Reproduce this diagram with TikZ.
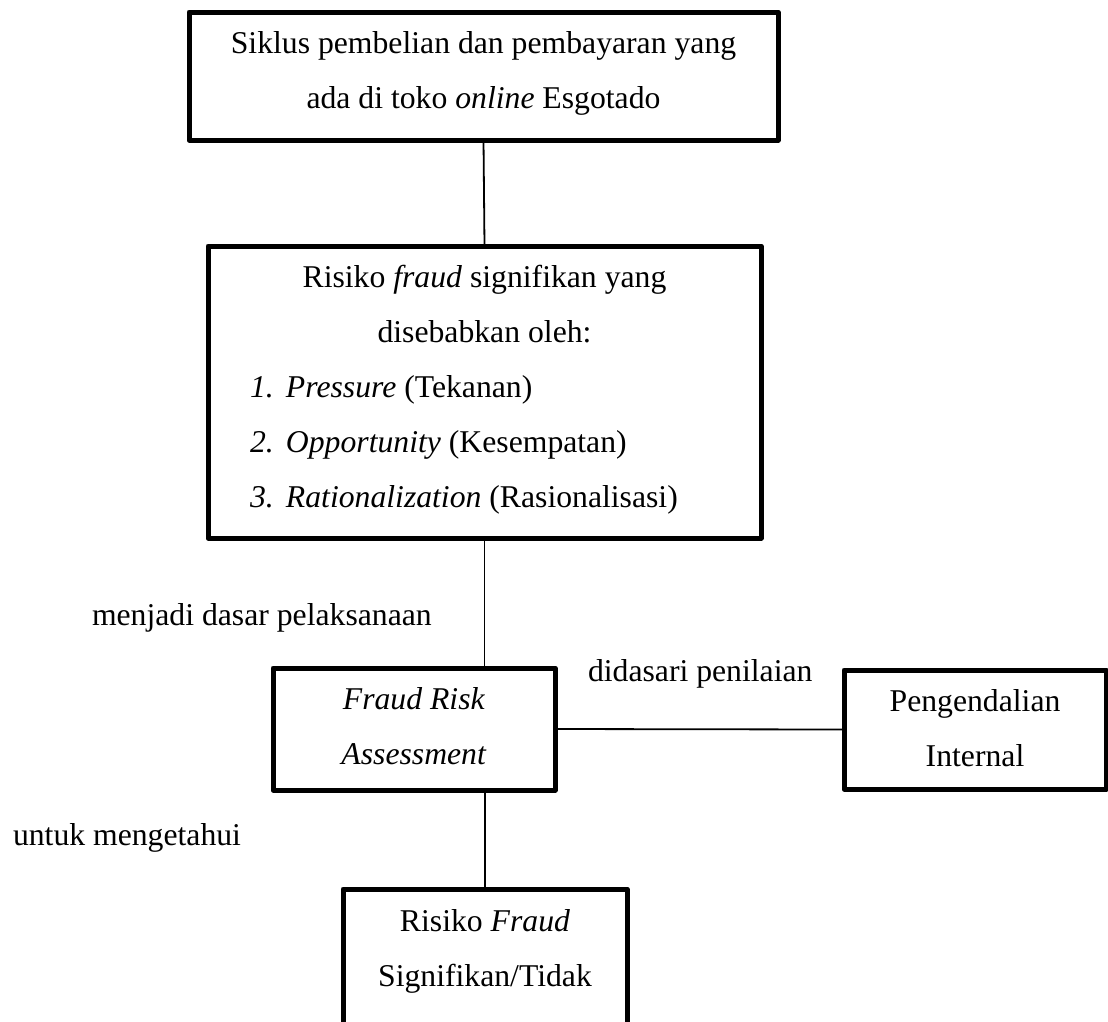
\documentclass[tikz,border=0pt]{standalone}
\usepackage{fontspec}
\setmainfont{Liberation Serif}
\begin{document}
\begin{tikzpicture}[x=1pt,y=-1pt,
  box/.style={draw=black,line width=5pt,line join=round,rectangle,inner sep=0pt,outer sep=0pt},
  conn/.style={draw=black,line width=1.8pt},
  txt/.style={inner sep=0pt,outer sep=0pt,anchor=base,font=\fontsize{31.7}{55}\selectfont},
  ltxt/.style={txt,anchor=base west}]
\useasboundingbox (0,0) rectangle (1108,1021);
\clip (0,0) rectangle (1108,1021);
% boxes
\node[box,minimum width=589pt,minimum height=128pt] (b1) at (483.5,76) {};
\node[box,minimum width=553pt,minimum height=292pt] (b2) at (484.5,392) {};
\node[box,minimum width=282pt,minimum height=122pt] (b3) at (414,729) {};
\node[box,minimum width=262pt,minimum height=119pt] (b4) at (975,729.5) {};
\node[box,minimum width=284pt,minimum height=170pt] (b5) at (485,974) {};
% connectors
\draw[conn] (b1.south) -- (b2.north);
\draw[conn] (b2.south) -- (b2.south |- b3.north);
\draw[conn] (b3.east) -- (b4.west);
\draw[conn] (b5.north) -- (b5.north |- b3.south);
% box texts
\node[txt] (t1a) at (483.5,53) {Siklus pembelian dan pembayaran yang};
\node[txt] (t1b) at (483.5,108) {ada di toko \textit{online} Esgotado};
\node[txt] (t2a) at (484.5,287) {Risiko \textit{fraud} signifikan yang};
\node[txt] (t2b) at (484.5,342) {disebabkan oleh:};
\node[ltxt] (t2c) at (250,397) {\makebox[36pt][l]{\textit{1.}}\textit{Pressure} (Tekanan)};
\node[ltxt] (t2d) at (250,452) {\makebox[36pt][l]{\textit{2.}}\textit{Opportunity} (Kesempatan)};
\node[ltxt] (t2e) at (250,507) {\makebox[36pt][l]{\textit{3.}}\textit{Rationalization} (Rasionalisasi)};
\node[txt] (t3a) at (414,709) {\textit{Fraud Risk}};
\node[txt] (t3b) at (414,764) {\textit{Assessment}};
\node[txt] (t4a) at (975,711) {Pengendalian};
\node[txt] (t4b) at (975,766) {Internal};
\node[txt] (t5a) at (485,931) {Risiko \textit{Fraud}};
\node[txt] (t5b) at (485,986) {Signifikan/Tidak};
% connector labels
\node[ltxt] (l1) at (92,625) {menjadi dasar pelaksanaan};
\node[ltxt] (l2) at (588,681) {didasari penilaian};
\node[ltxt] (l3) at (13,845) {untuk mengetahui};
\end{tikzpicture}
\end{document}
